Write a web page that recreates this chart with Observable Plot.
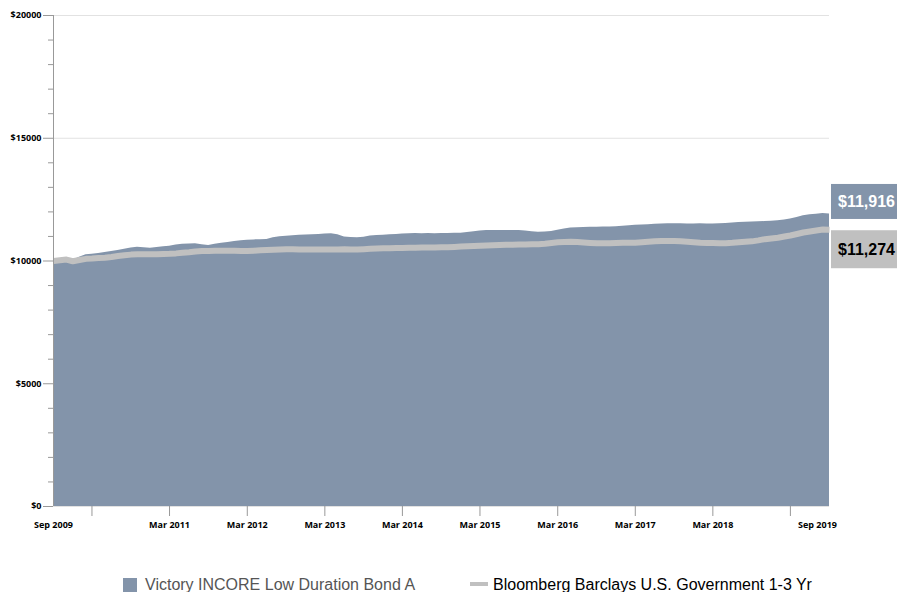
<!DOCTYPE html>
<html>
<head>
<meta charset="utf-8">
<script src="https://cdn.jsdelivr.net/npm/d3@7"></script>
<script src="https://cdn.jsdelivr.net/npm/@observablehq/plot@0.6"></script>
<style>
  html, body { margin: 0; padding: 0; background: #fff; overflow: hidden; }
  #chart svg { display: block; }
</style>
</head>
<body>
<div id="chart"></div>
<script>
// ---- Data (monthly, Sep 2009 – Sep 2019), growth of $10,000 ----
const startMonth = "2009-09-01";
const endMonth = "2019-09-01";

const fundName = "Victory INCORE Low Duration Bond A";
const benchName = "Bloomberg Barclays U.S. Government 1-3 Yr";

const fundValues = [
  10000, 10040, 10080, 10030, 10150, 10250, 10270, 10310, 10350, 10390,
  10430, 10480, 10530, 10560, 10540, 10520, 10550, 10580, 10600, 10650,
  10680, 10690, 10700, 10660, 10630, 10680, 10720, 10750, 10790, 10820,
  10850, 10860, 10870, 10880, 10950, 10990, 11010, 11030, 11050, 11060,
  11066, 11080, 11095, 11107, 11070, 10975, 10955, 10943, 10970, 11015,
  11035, 11050, 11065, 11080, 11095, 11110, 11120, 11115, 11120, 11110,
  11120, 11125, 11130, 11134, 11160, 11190, 11220, 11240, 11245, 11240,
  11245, 11240, 11240, 11220, 11195, 11175, 11185, 11205, 11250, 11300,
  11340, 11355, 11365, 11370, 11375, 11380, 11390, 11400, 11420, 11440,
  11460, 11465, 11480, 11495, 11505, 11514, 11520, 11515, 11510, 11512,
  11514, 11505, 11510, 11514, 11530, 11550, 11570, 11580, 11590, 11600,
  11605, 11615, 11640, 11670, 11710, 11770, 11840, 11885, 11900, 11930,
  11916
];

const benchValues = [
  10000, 10030, 10060, 9990, 10040, 10088, 10100, 10120, 10135, 10165,
  10200, 10230, 10260, 10271, 10271, 10271, 10275, 10285, 10292, 10310,
  10338, 10360, 10390, 10407, 10410, 10415, 10421, 10421, 10418, 10410,
  10410, 10420, 10435, 10450, 10460, 10470, 10475, 10475, 10472, 10470,
  10470, 10468, 10470, 10468, 10470, 10475, 10468, 10470, 10480, 10495,
  10505, 10515, 10520, 10525, 10530, 10535, 10540, 10545, 10550, 10553,
  10558, 10565, 10575, 10590, 10600, 10610, 10620, 10630, 10640, 10650,
  10660, 10665, 10670, 10675, 10680, 10686, 10700, 10730, 10760, 10775,
  10780, 10770, 10750, 10735, 10720, 10720, 10725, 10735, 10740, 10745,
  10745, 10760, 10780, 10800, 10810, 10814, 10815, 10800, 10780, 10760,
  10740, 10732, 10730, 10725, 10728, 10740, 10760, 10780, 10800, 10840,
  10890, 10920, 10950, 11000, 11040, 11100, 11160, 11200, 11240, 11280,
  11274
];

const endValueLabels = ["$11,916", "$11,274"];

const yMajorTicks = [0, 5000, 10000, 15000, 20000];
const yMinorTicks = [1000, 2000, 3000, 4000, 6000, 7000, 8000, 9000, 11000, 12000, 13000, 14000, 16000, 17000, 18000, 19000];

const xTickMonths = ["2010-03-01", "2011-03-01", "2012-03-01", "2013-03-01", "2014-03-01",
                     "2015-03-01", "2016-03-01", "2017-03-01", "2018-03-01", "2019-03-01"];
const xTickLabels = ["", "Mar 2011", "Mar 2012", "Mar 2013", "Mar 2014",
                     "Mar 2015", "Mar 2016", "Mar 2017", "Mar 2018", ""];
const xEndLabels = ["Sep 2009", "Sep 2019"];

// ---- Build table ----
const start = new Date(startMonth + "T00:00:00Z");
const end = new Date(endMonth + "T00:00:00Z");
const months = d3.utcMonth.range(start, d3.utcMonth.offset(end, 1));
const data = months.map((d, i) => ({date: d, fund: fundValues[i], bench: benchValues[i]}));
const xTicks = xTickMonths.map(s => new Date(s + "T00:00:00Z"));

const fundColor = "#8394aa";
const benchColor = "#c0c0c0";
const axisColor = "#999";

const plot = Plot.plot({
  width: 897,
  height: 545,
  marginLeft: 53,
  marginRight: 68,
  marginTop: 15,
  marginBottom: 39,
  x: {type: "utc", domain: [start, end], axis: null},
  y: {domain: [0, 20000], axis: null},
  style: {fontFamily: "'Open Sans', sans-serif", fontSize: "9px", fontWeight: "bold", color: "#000", background: "#fff", overflow: "visible"},
  marks: [
    Plot.ruleY(yMajorTicks, {stroke: "#e2e2e2", strokeOpacity: 1}),
    Plot.areaY(data, {x: "date", y: "fund", fill: fundColor}),
    Plot.lineY(data, {x: "date", y: "bench", stroke: benchColor, strokeWidth: 6, strokeLinejoin: "round", strokeLinecap: "butt"}),
    Plot.axisY(yMajorTicks, {tickSize: 10, tickPadding: 2, tickFormat: d => "$" + d, stroke: axisColor, strokeOpacity: 1, fill: "#000"}),
    Plot.axisY(yMinorTicks, {tickSize: 5, text: null, stroke: axisColor, strokeOpacity: 1}),
    Plot.ruleX([start], {y1: 0, y2: 20000, stroke: axisColor}),
    Plot.axisX(xTicks, {tickSize: 10, tickPadding: 5, tickFormat: (d, i) => xTickLabels[i], stroke: axisColor, strokeOpacity: 1, fill: "#000"}),
    Plot.text([start], {x: d => d, frameAnchor: "bottom", text: () => xEndLabels[0], lineAnchor: "top", dy: 15, fill: "#000"}),
    Plot.text([end], {x: d => d, frameAnchor: "bottom", text: () => xEndLabels[1], lineAnchor: "top", dy: 15, dx: -12, fill: "#000"})
  ]
});

// End value badges, positioned through the plot's scales
const xs = plot.scale("x"), ys = plot.scale("y");
const svg = d3.select(plot);
const xEnd = xs.apply(end);
const fundEnd = fundValues[fundValues.length - 1];
const benchEnd = benchValues[benchValues.length - 1];
const badges = [
  {cy: ys.apply(fundEnd) - 12, h: 35, fill: fundColor, color: "#fff", text: endValueLabels[0]},
  {cy: ys.apply(benchEnd) + 20, h: 38, fill: benchColor, color: "#000", text: endValueLabels[1]}
];
for (const b of badges) {
  svg.append("rect").attr("x", xEnd + 2).attr("y", b.cy - b.h / 2).attr("width", 897 - xEnd - 2).attr("height", b.h).attr("fill", b.fill);
  svg.append("text").attr("x", xEnd + 9).attr("y", b.cy).attr("dy", "0.36em")
    .attr("text-anchor", "start")
    .attr("fill", b.color).attr("font-family", "'Liberation Sans', Arial, sans-serif")
    .attr("font-size", 16).attr("font-weight", "bold").text(b.text);
}

document.getElementById("chart").appendChild(plot);

// Legend below
const legend = d3.create("svg").attr("width", 897).attr("height", 47)
  .attr("font-family", "'Liberation Sans', Arial, sans-serif").attr("font-size", 16);
legend.append("rect").attr("x", 123).attr("y", 33).attr("width", 14).attr("height", 14).attr("fill", fundColor);
legend.append("text").attr("x", 145).attr("y", 45).attr("fill", "#555").text(fundName);
legend.append("line").attr("x1", 470).attr("x2", 488).attr("y1", 39).attr("y2", 39).attr("stroke", benchColor).attr("stroke-width", 4);
legend.append("text").attr("x", 493).attr("y", 45).attr("fill", "#000").text(benchName);
document.getElementById("chart").appendChild(legend.node());
</script>
</body>
</html>
